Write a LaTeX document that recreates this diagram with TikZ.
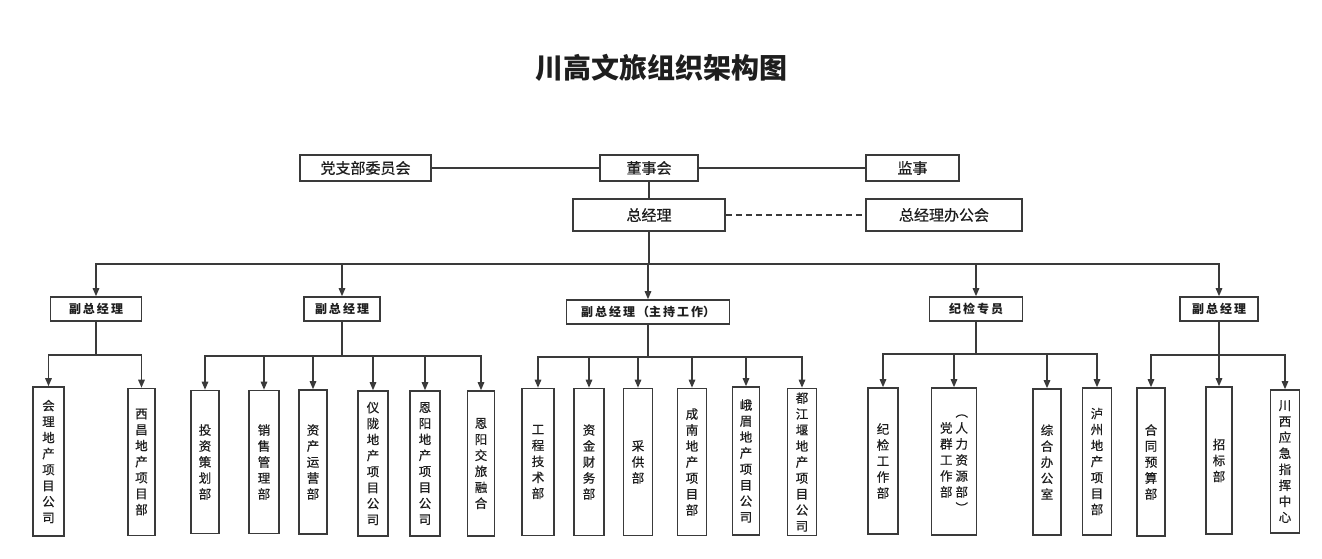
\documentclass[tikz,border=0pt]{standalone}
\usepackage{fontspec}
\setmainfont{Noto Sans CJK SC}
\newfontfamily\medfont[FakeBold=0.6]{Noto Sans CJK SC}
\usetikzlibrary{arrows.meta}
\definecolor{linec}{HTML}{3A3A3A}
\definecolor{txt}{HTML}{1E1E1E}
\begin{document}
\begin{tikzpicture}[x=1pt,y=-1pt,
  conn/.style={draw=linec, line width=1.4pt},
  arr/.style={conn, -{Triangle[length=8pt,width=6.5pt]}},
  dashconn/.style={conn, dash pattern=on 6pt off 4pt},
  topbox/.style={draw=linec, line width=1.6pt, inner sep=0pt, minimum height=26pt, text=txt, font=\fontsize{15}{15}\selectfont\medfont},
  midbox/.style={draw=linec, line width=1.6pt, inner sep=0pt, minimum height=24pt, text=txt, font=\fontsize{12}{12}\selectfont\bfseries},
  vbox/.style={draw=linec, line width=1.6pt, inner sep=0pt, minimum height=147pt, text=txt, align=center, font=\fontsize{12.5}{16}\selectfont\medfont},
  titlestyle/.style={text=txt, font=\fontsize{28}{28}\selectfont\bfseries}
]
\useasboundingbox (0,0) rectangle (1322,558);

\node[titlestyle] (title) at (661,68) {川高文旅组织架构图};

% top rows
\node[topbox, minimum width=131pt] (dzb) at (365.5,168) {党支部委员会};
\node[topbox, minimum width=98pt] (dsh) at (649,168) {董事会};
\node[topbox, minimum width=93pt] (js) at (912.5,168) {监事};
\node[topbox, minimum width=152pt, minimum height=32pt] (zjl) at (649,215) {总经理};
\node[topbox, minimum width=156pt, minimum height=32pt] (bgh) at (944,215) {总经理办公会};

\draw[conn] (dzb) -- (dsh);
\draw[conn] (dsh) -- (js);
\draw[conn] (dsh) -- (zjl);
\draw[dashconn] (zjl) -- (bgh);

% level 2
\node[midbox, minimum width=91pt] (g1) at (96,309) {副\,总\,经\,理};
\node[midbox, minimum width=76pt] (g2) at (342,309) {副\,总\,经\,理};
\node[midbox, minimum width=163pt] (g3) at (648,312) {副\,总\,经\,理\,（主\,持\,工\,作）};
\node[midbox, minimum width=93pt] (g4) at (976,309) {纪\,检\,专\,员};
\node[midbox, minimum width=78pt] (g5) at (1219,309) {副\,总\,经\,理};

\coordinate (bus) at (649,264);
\draw[conn] (zjl) -- (bus);
\foreach \g in {g1,g2,g3,g4,g5} \draw[arr] (bus) -| (\g.north);

% level 3
\node[vbox, minimum width=31pt, minimum height=149pt] (c11) at (48.5,461.5) {会\\理\\地\\产\\项\\目\\公\\司};
\node[vbox, minimum width=27pt] (c12) at (141.5,462) {西\\昌\\地\\产\\项\\目\\部};

\node[vbox, minimum width=28pt, minimum height=143pt] (c21) at (205,462) {投\\资\\策\\划\\部};
\node[vbox, minimum width=30pt, minimum height=143pt] (c22) at (264,462) {销\\售\\管\\理\\部};
\node[vbox, minimum width=28pt, minimum height=144pt] (c23) at (313,462) {资\\产\\运\\营\\部};
\node[vbox, minimum width=30pt, minimum height=145pt] (c24) at (373,463.5) {仪\\陇\\地\\产\\项\\目\\公\\司};
\node[vbox, minimum width=30pt, minimum height=145pt] (c25) at (425,463.5) {恩\\阳\\地\\产\\项\\目\\公\\司};
\node[vbox, minimum width=27pt, minimum height=145pt] (c26) at (481,463.5) {恩\\阳\\交\\旅\\融\\合};

\node[vbox, minimum width=32pt] (c31) at (538,462) {工\\程\\技\\术\\部};
\node[vbox, minimum width=30pt] (c32) at (589,462) {资\\金\\财\\务\\部};
\node[vbox, minimum width=29pt] (c33) at (638,462) {采\\供\\部};
\node[vbox, minimum width=29pt] (c34) at (692,462) {成\\南\\地\\产\\项\\目\\部};
\node[vbox, minimum width=27pt, minimum height=148pt] (c35) at (746,461) {峨\\眉\\地\\产\\项\\目\\公\\司};
\node[vbox, minimum width=29pt] (c36) at (802,462) {都\\江\\堰\\地\\产\\项\\目\\公\\司};

\node[vbox, minimum width=30pt, minimum height=146pt] (c41) at (883,461) {纪\\检\\工\\作\\部};
\node[vbox, minimum width=45pt] (c42) at (954,461.5) {\begin{tabular}{@{}c@{\hspace{3pt}}c@{}} & ︵\\ 党 & 人\\ 群 & 力\\ 工 & 资\\ 作 & 源\\ 部 & 部\\ & ︶\end{tabular}};
\node[vbox, minimum width=28pt, minimum height=146pt] (c43) at (1047,462) {综\\合\\办\\公\\室};
\node[vbox, minimum width=29pt] (c44) at (1097,461.5) {泸\\州\\地\\产\\项\\目\\部};

\node[vbox, minimum width=28pt, minimum height=148pt] (c51) at (1151,462) {合\\同\\预\\算\\部};
\node[vbox, minimum width=26pt] (c52) at (1219,460.5) {招\\标\\部};
\node[vbox, minimum width=29pt, minimum height=143pt] (c53) at (1285,461.5) {川\\西\\应\\急\\指\\挥\\中\\心};

% group buses
\coordinate (b1) at (96,355);
\coordinate (b2) at (342,356);
\coordinate (b3) at (648,357);
\coordinate (b4) at (976,354);
\coordinate (b5) at (1219,355);

\draw[conn] (g1) -- (b1);
\foreach \c in {c11,c12} \draw[arr] (b1) -| (\c.north);
\draw[conn] (g2) -- (b2);
\foreach \c in {c21,c22,c23,c24,c25,c26} \draw[arr] (b2) -| (\c.north);
\draw[conn] (g3) -- (b3);
\foreach \c in {c31,c32,c33,c34,c35,c36} \draw[arr] (b3) -| (\c.north);
\draw[conn] (g4) -- (b4);
\foreach \c in {c41,c42,c43,c44} \draw[arr] (b4) -| (\c.north);
\draw[conn] (g5) -- (b5);
\foreach \c in {c51,c52,c53} \draw[arr] (b5) -| (\c.north);
\end{tikzpicture}
\end{document}
